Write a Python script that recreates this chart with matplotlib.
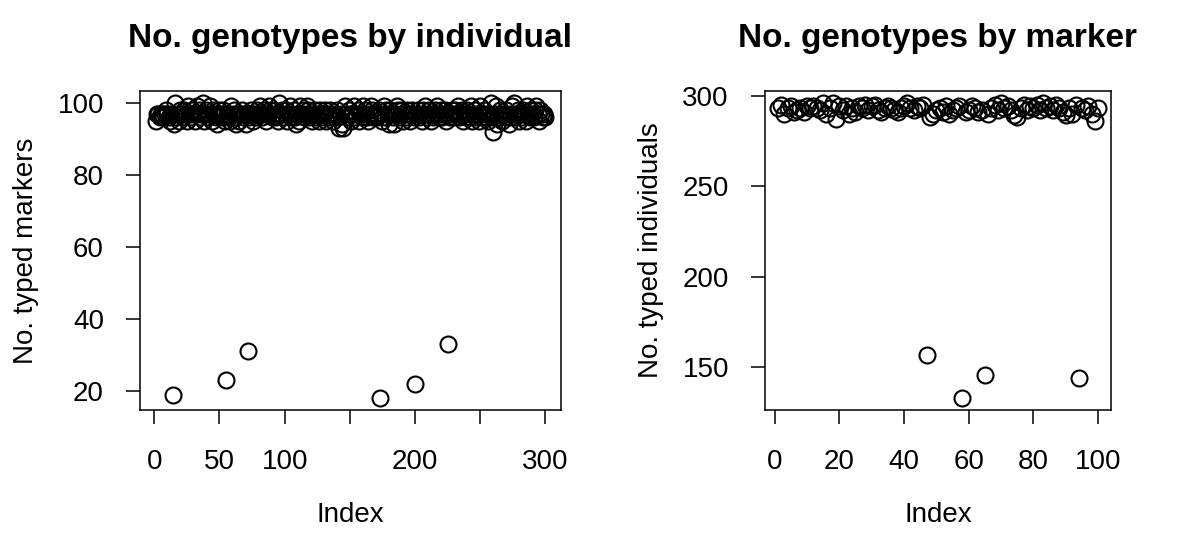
import matplotlib
matplotlib.use('Agg')
import matplotlib.pyplot as plt
import numpy as np

plt.rcParams['font.family'] = ['Liberation Sans', 'DejaVu Sans']

# no. typed markers for each of 300 individuals
ind_counts = [
    95, 97, 97, 96, 97, 97, 96, 97, 98, 97, 96, 95, 97, 19, 94, 100, 96, 97, 95, 98,
    97, 96, 98, 97, 95, 99, 97, 96, 98, 97, 95, 97, 99, 98, 96, 97, 100, 95, 97, 98,
    96, 97, 99, 95, 98, 97, 96, 94, 97, 98, 96, 97, 98, 95, 23, 97, 96, 95, 99, 97,
    98, 96, 94, 97, 95, 97, 98, 96, 97, 94, 97, 31, 96, 98, 97, 95, 97, 96, 98, 97,
    99, 97, 96, 98, 97, 95, 97, 99, 98, 96, 97, 98, 96, 97, 95, 100, 97, 98, 96, 97,
    98, 95, 97, 99, 96, 97, 98, 96, 94, 97, 95, 99, 97, 98, 96, 97, 99, 98, 96, 97,
    95, 97, 98, 96, 97, 95, 98, 97, 96, 97, 98, 95, 97, 96, 98, 97, 95, 96, 97, 98,
    96, 93, 97, 94, 93, 99, 97, 96, 98, 97, 95, 97, 99, 96, 97, 98, 95, 97, 96, 99,
    97, 98, 96, 95, 97, 99, 98, 96, 97, 97, 96, 98, 18, 97, 95, 99, 96, 98, 97, 94,
    98, 97, 96, 94, 97, 99, 98, 96, 97, 98, 95, 97, 96, 98, 97, 95, 97, 98, 96, 22,
    97, 98, 96, 97, 95, 98, 97, 99, 96, 97, 98, 95, 97, 96, 98, 97, 99, 96, 97, 98,
    96, 97, 98, 95, 33, 97, 96, 98, 97, 96, 98, 97, 99, 96, 97, 98, 95, 97, 96, 98,
    97, 96, 99, 95, 97, 98, 96, 97, 95, 99, 96, 97, 98, 96, 97, 95, 97, 100, 96, 92,
    97, 99, 94, 96, 98, 97, 95, 97, 96, 98, 97, 94, 96, 99, 97, 100, 96, 97, 98, 95,
    97, 96, 98, 97, 95, 99, 97, 96, 98, 97, 96, 98, 99, 97, 95, 98, 97, 96, 97, 96,
]

# no. typed individuals for each of 100 markers
mar_counts = [
    293, 295, 290, 293, 294, 291, 292, 293, 291, 294,
    293, 294, 293, 292, 296, 290, 293, 296, 287, 294,
    292, 294, 290, 293, 291, 294, 293, 295, 292, 294,
    295, 292, 291, 293, 294, 293, 292, 291, 293, 294,
    296, 293, 292, 294, 293, 295, 157, 288, 290, 292,
    293, 291, 294, 290, 292, 293, 294, 133, 291, 292,
    294, 293, 291, 292, 146, 290, 293, 295, 292, 296,
    293, 294, 292, 289, 288, 293, 295, 292, 294, 293,
    295, 292, 296, 293, 294, 292, 295, 293, 291, 289,
    293, 290, 295, 144, 293, 292, 294, 290, 286, 293,
]

xt_left = [0, 50, 100, 150, 200, 250, 300]
xt_left_lab = ['0', '50', '100', '', '200', '', '300']
yt_left = [20, 40, 60, 80, 100]
xt_right = [0, 20, 40, 60, 80, 100]
yt_right = [150, 200, 250, 300]

W, H = 1196.0, 542.0


def r_style(ax, x, y, xt, xtl, yt, title, ylab):
    ax.plot(x, y, 'o', mfc='none', mec='black', ms=11.5, mew=1.5)
    xr = x.max() - x.min()
    yr = max(y) - min(y)
    ax.set_xlim(x.min() - 0.04 * xr, x.max() + 0.04 * xr)
    ax.set_ylim(min(y) - 0.04 * yr, max(y) + 0.04 * yr)
    ax.set_xticks(xt)
    ax.set_xticklabels(xtl)
    ax.set_yticks(yt)
    ax.set_yticklabels([str(v) for v in yt])
    ax.tick_params(direction='out', length=10, width=1.1, labelsize=20)
    ax.tick_params(axis='x', pad=18)
    ax.tick_params(axis='y', pad=16)
    for s in ax.spines.values():
        s.set_linewidth(1.1)
    ax.set_title(title, fontsize=24, fontweight='bold', pad=32)
    ax.set_xlabel('Index', fontsize=20)
    ax.set_ylabel(ylab, fontsize=20)
    bb = ax.get_position()
    wpx, hpx = bb.width * W, bb.height * H
    ax.xaxis.set_label_coords(0.5, -92 / hpx)
    ax.yaxis.set_label_coords(-101 / wpx, 0.5)


fig = plt.figure(figsize=(11.96, 5.42), dpi=100)
ax1 = fig.add_axes([140 / W, 1 - 410 / H, (561 - 140) / W, (410 - 91) / H])
ax2 = fig.add_axes([765 / W, 1 - 410 / H, (1111 - 765) / W, (410 - 91) / H])

r_style(ax1, np.arange(1, len(ind_counts) + 1), ind_counts, xt_left, xt_left_lab,
        yt_left, 'No. genotypes by individual', 'No. typed markers')
r_style(ax2, np.arange(1, len(mar_counts) + 1), mar_counts, xt_right,
        [str(v) for v in xt_right], yt_right, 'No. genotypes by marker',
        'No. typed individuals')

fig.savefig('out.png', dpi=100)
